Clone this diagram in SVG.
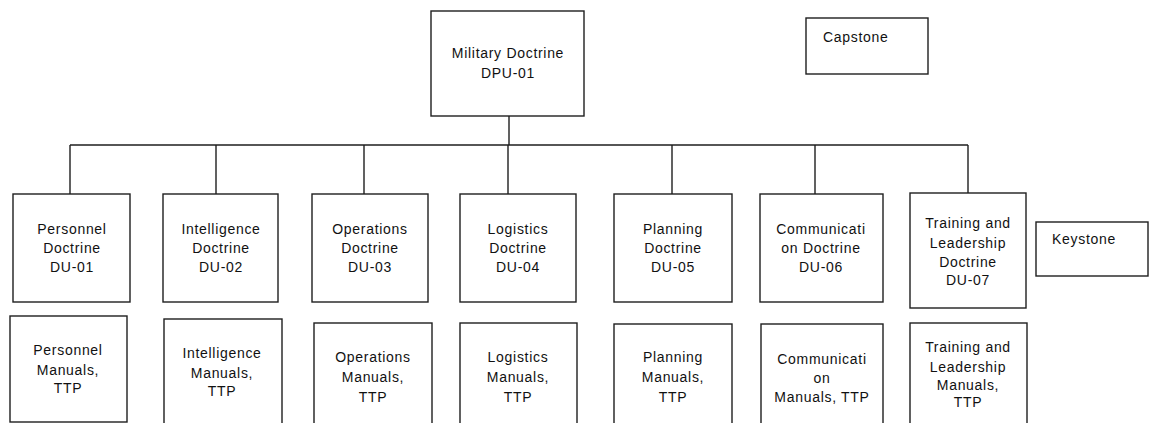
<svg xmlns="http://www.w3.org/2000/svg" width="1149" height="423" viewBox="0 0 1149 423">
<style>
rect{fill:#fff;stroke:#1e1e1e;stroke-width:1.4}
.c line{stroke:#1e1e1e;stroke-width:1.4}
text{font-family:"Liberation Sans",Arial,sans-serif;font-size:14px;fill:#111;letter-spacing:0.7px}
.m{text-anchor:middle}
</style>
<rect x="0" y="0" width="1149" height="423" style="stroke:none"/>
<g class="c" id="connectors">
<line x1="509" y1="116" x2="509" y2="145"/>
<line x1="70" y1="145" x2="968" y2="145"/>
<line x1="70" y1="145" x2="70" y2="194"/>
<line x1="216" y1="145" x2="216" y2="194"/>
<line x1="364" y1="145" x2="364" y2="194"/>
<line x1="508" y1="145" x2="508" y2="194"/>
<line x1="672" y1="145" x2="672" y2="194"/>
<line x1="815" y1="145" x2="815" y2="194"/>
<line x1="968" y1="145" x2="968" y2="193"/>
</g>
<g id="military"><rect x="431" y="11" width="153" height="105"/><text class="m" x="508" y="58">Military Doctrine</text><text class="m" x="508" y="78">DPU-01</text></g>
<g id="capstone"><rect x="806" y="18" width="122" height="56"/><text x="823" y="42">Capstone</text></g>
<g id="keystone"><rect x="1036" y="222" width="112" height="54"/><text x="1052" y="244">Keystone</text></g>
<g id="du01"><rect x="13" y="194" width="117" height="108"/><text class="m" x="72" y="234">Personnel</text><text class="m" x="72" y="253">Doctrine</text><text class="m" x="72" y="272">DU-01</text></g>
<g id="du02"><rect x="163" y="194" width="115" height="108"/><text class="m" x="221" y="234">Intelligence</text><text class="m" x="221" y="253">Doctrine</text><text class="m" x="221" y="272">DU-02</text></g>
<g id="du03"><rect x="312" y="194" width="116" height="108"/><text class="m" x="370" y="234">Operations</text><text class="m" x="370" y="253">Doctrine</text><text class="m" x="370" y="272">DU-03</text></g>
<g id="du04"><rect x="460" y="194" width="116" height="108"/><text class="m" x="518" y="234">Logistics</text><text class="m" x="518" y="253">Doctrine</text><text class="m" x="518" y="272">DU-04</text></g>
<g id="du05"><rect x="614" y="194" width="118" height="108"/><text class="m" x="673" y="234">Planning</text><text class="m" x="673" y="253">Doctrine</text><text class="m" x="673" y="272">DU-05</text></g>
<g id="du06"><rect x="760" y="194" width="123" height="108"/><text class="m" x="821" y="234">Communicati</text><text class="m" x="821" y="253">on Doctrine</text><text class="m" x="821" y="272">DU-06</text></g>
<g id="du07"><rect x="910" y="193" width="116" height="115"/><text class="m" x="968" y="228">Training and</text><text class="m" x="968" y="248">Leadership</text><text class="m" x="968" y="267">Doctrine</text><text class="m" x="968" y="285">DU-07</text></g>
<g id="m01"><rect x="10" y="316" width="117" height="106"/><text class="m" x="68" y="355">Personnel</text><text class="m" x="68" y="375">Manuals,</text><text class="m" x="68" y="393">TTP</text></g>
<g id="m02"><rect x="164" y="319" width="118" height="115"/><text class="m" x="222" y="358">Intelligence</text><text class="m" x="222" y="378">Manuals,</text><text class="m" x="222" y="396">TTP</text></g>
<g id="m03"><rect x="314" y="323" width="118" height="110"/><text class="m" x="373" y="362">Operations</text><text class="m" x="373" y="382">Manuals,</text><text class="m" x="373" y="402">TTP</text></g>
<g id="m04"><rect x="460" y="323" width="117" height="110"/><text class="m" x="518" y="362">Logistics</text><text class="m" x="518" y="382">Manuals,</text><text class="m" x="518" y="402">TTP</text></g>
<g id="m05"><rect x="614" y="324" width="118" height="110"/><text class="m" x="673" y="362">Planning</text><text class="m" x="673" y="382">Manuals,</text><text class="m" x="673" y="402">TTP</text></g>
<g id="m06"><rect x="761" y="324" width="122" height="110"/><text class="m" x="822" y="364">Communicati</text><text class="m" x="822" y="383">on</text><text class="m" x="822" y="402">Manuals, TTP</text></g>
<g id="m07"><rect x="910" y="323" width="117" height="110"/><text class="m" x="968" y="352">Training and</text><text class="m" x="968" y="372">Leadership</text><text class="m" x="968" y="390">Manuals,</text><text class="m" x="968" y="407">TTP</text></g>
</svg>
